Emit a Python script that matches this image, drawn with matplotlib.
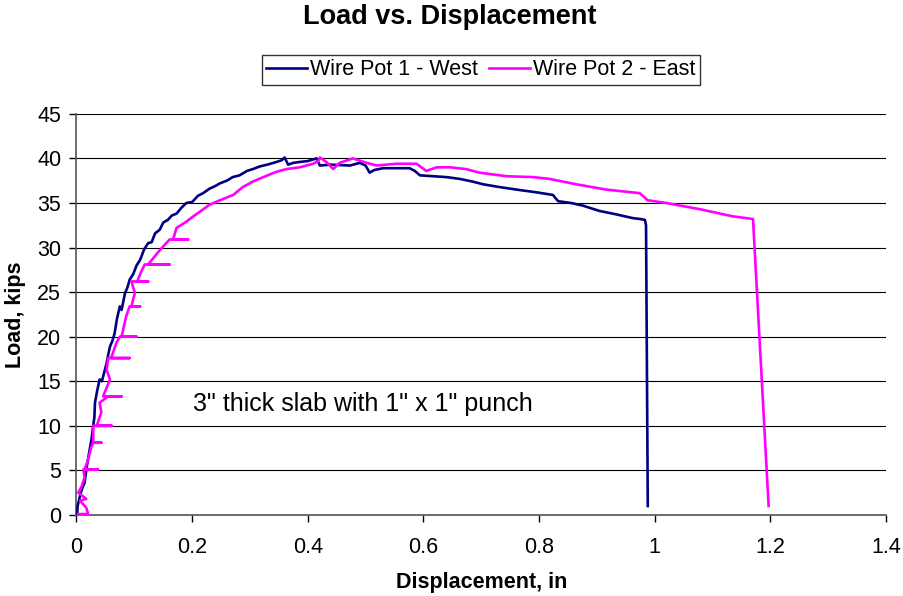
import matplotlib
matplotlib.use("Agg")
import matplotlib.pyplot as plt

# Wire Pot 1 - West (in, kips)
west_x = [0.001, 0.002, 0.006, 0.010, 0.014, 0.018, 0.023, 0.026, 0.029, 0.031,
          0.032, 0.036, 0.040, 0.044, 0.048, 0.052, 0.055, 0.058, 0.062, 0.066,
          0.070, 0.075, 0.078, 0.084, 0.088, 0.092, 0.098, 0.104, 0.110, 0.117,
          0.124, 0.130, 0.136, 0.144, 0.150, 0.158, 0.165, 0.173, 0.182, 0.190,
          0.200, 0.210, 0.219, 0.230, 0.240, 0.248, 0.260, 0.270, 0.282, 0.295,
          0.305, 0.317, 0.330, 0.346, 0.355, 0.360, 0.366, 0.375, 0.386, 0.400,
          0.415, 0.421, 0.440, 0.473, 0.490, 0.500, 0.507, 0.515, 0.530, 0.560,
          0.576, 0.585, 0.594, 0.617, 0.640, 0.663, 0.685, 0.703, 0.730, 0.761,
          0.795, 0.824, 0.829, 0.833, 0.855, 0.876, 0.890, 0.905, 0.935, 0.962,
          0.975, 0.983, 0.985, 0.988]
west_y = [0.0, 1.0, 2.1, 3.0, 3.6, 5.5, 7.4, 8.5, 10.0, 11.0,
          12.6, 14.0, 15.2, 15.0, 16.0, 17.0, 18.0, 18.9, 19.5, 20.4,
          22.0, 23.4, 23.0, 24.9, 25.5, 26.4, 27.0, 28.0, 28.6, 29.8,
          30.5, 30.6, 31.6, 32.0, 32.8, 33.1, 33.6, 33.8, 34.5, 35.0,
          35.1, 35.8, 36.1, 36.6, 36.9, 37.2, 37.5, 37.9, 38.1, 38.6,
          38.8, 39.1, 39.3, 39.6, 39.8, 40.1, 39.3, 39.5, 39.6, 39.7,
          40.0, 39.2, 39.3, 39.2, 39.5, 39.2, 38.4, 38.7, 38.9, 38.9,
          38.9, 38.6, 38.1, 38.0, 37.9, 37.7, 37.4, 37.1, 36.8, 36.5,
          36.2, 35.9, 35.5, 35.2, 35.0, 34.7, 34.4, 34.1, 33.7, 33.3,
          33.2, 33.1, 32.5, 1.0]

# Wire Pot 2 - East (in, kips)
east_x = [0.003, 0.020, 0.017, 0.006, 0.017, 0.003, 0.009, 0.014, 0.012, 0.037,
          0.014, 0.020, 0.026, 0.029, 0.043, 0.029, 0.029, 0.061, 0.035, 0.043,
          0.040, 0.055, 0.078, 0.046, 0.058, 0.052, 0.055, 0.092, 0.060, 0.069,
          0.075, 0.104, 0.078, 0.086, 0.092, 0.110, 0.095, 0.101, 0.095, 0.124,
          0.105, 0.112, 0.118, 0.161, 0.124, 0.144, 0.161, 0.193, 0.167, 0.173,
          0.190, 0.202, 0.213, 0.230, 0.248, 0.271, 0.288, 0.305, 0.323, 0.346,
          0.363, 0.386, 0.409, 0.418, 0.421, 0.432, 0.444, 0.455, 0.478, 0.502,
          0.519, 0.553, 0.588, 0.605, 0.623, 0.646, 0.674, 0.697, 0.744, 0.790,
          0.818, 0.864, 0.916, 0.974, 0.988, 1.020, 1.078, 1.135, 1.170, 1.197]
east_y = [0.1, 0.1, 0.8, 1.6, 1.8, 2.5, 3.2, 4.2, 5.1, 5.1,
          5.1, 6.2, 7.7, 8.1, 8.1, 8.1, 10.0, 10.0, 10.0, 11.5,
          12.6, 13.3, 13.3, 13.3, 15.2, 16.3, 17.6, 17.6, 17.6, 19.3,
          20.0, 20.0, 20.0, 22.3, 23.4, 23.4, 23.4, 24.9, 26.2, 26.2,
          26.2, 27.3, 28.1, 28.1, 28.1, 29.7, 30.9, 30.9, 30.9, 32.2,
          32.9, 33.5, 34.0, 34.8, 35.3, 35.9, 36.8, 37.4, 37.9, 38.5,
          38.8, 39.0, 39.4, 39.7, 40.1, 39.6, 38.8, 39.5, 40.0, 39.5,
          39.2, 39.4, 39.4, 38.6, 39.0, 39.0, 38.8, 38.4, 38.0, 37.9,
          37.7, 37.1, 36.5, 36.1, 35.3, 35.0, 34.3, 33.5, 33.2, 1.0]

x_ticks = [0, 0.2, 0.4, 0.6, 0.8, 1, 1.2, 1.4]
x_labels = ["0", "0.2", "0.4", "0.6", "0.8", "1", "1.2", "1.4"]
y_ticks = [0, 5, 10, 15, 20, 25, 30, 35, 40, 45]

plt.rcParams["font.family"] = ["Liberation Sans", "DejaVu Sans"]

fig = plt.figure(figsize=(9.04, 5.96), dpi=100)
ax = fig.add_axes([0.0846, 0.136, 0.8955, 0.673])

ax.plot(west_x, west_y, color="#000080", lw=1.9, label="Wire Pot 1 - West", zorder=3)
ax.plot(east_x, east_y, color="#FF00FF", lw=1.9, label="Wire Pot 2 - East", zorder=3)

ax.set_xlim(0, 1.4)
ax.set_ylim(0, 45)
ax.set_xticks(x_ticks)
ax.set_xticklabels(x_labels)
ax.set_yticks(y_ticks)
ax.tick_params(direction="out", length=5, width=1, labelsize=15.5, colors="black")
ax.tick_params(axis="x", pad=11)
ax.tick_params(axis="y", pad=6)
ax.grid(axis="y", color="black", lw=0.8)
ax.set_axisbelow(True)
for s in ["top", "right"]:
    ax.spines[s].set_visible(False)
for s in ["left", "bottom"]:
    ax.spines[s].set_color("#555555")
    ax.spines[s].set_linewidth(1.2)

ax.set_xlabel("Displacement, in", fontsize=15.5, fontweight="bold", labelpad=10)
ax.set_ylabel("Load, kips", fontsize=15.5, fontweight="bold", labelpad=8)

ax.text(0.201, 12.5, "3\" thick slab with 1\" x 1\" punch", fontsize=18, va="center")

fig.text(0.498, 0.972, "Load vs. Displacement", fontsize=19.5, fontweight="bold",
         ha="center", va="center")

leg = fig.legend(loc="center", bbox_to_anchor=(0.532, 0.883), ncol=2, fontsize=15.5,
                 frameon=True, fancybox=False, edgecolor="black", handlelength=1.9,
                 handletextpad=0.15, columnspacing=0.5, borderpad=0.2,
                 borderaxespad=0)
leg.get_frame().set_linewidth(1.0)

fig.savefig("out.png", dpi=100)
